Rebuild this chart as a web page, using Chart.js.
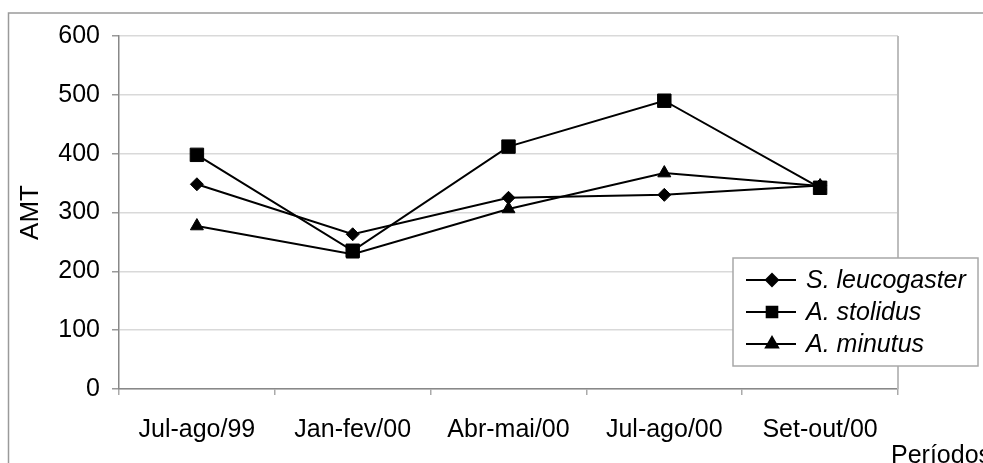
<!DOCTYPE html>
<html>
<head>
<meta charset="utf-8">
<script src="https://cdn.jsdelivr.net/npm/chart.js@4/dist/chart.umd.min.js"></script>
<style>
    html, body { margin: 0; padding: 0; background: #fff; }
    canvas { display: block; }
</style>
</head>
<body>
<canvas id="amt-chart" width="983" height="463"></canvas>
<script>
// periods and AMT values
const periods = ["Jul-ago/99", "Jan-fev/00", "Abr-mai/00", "Jul-ago/00", "Set-out/00"];
const leucogaster = [348, 263, 325, 330, 346];
const stolidus = [398, 235, 412, 490, 342];
const minutus = [277, 229, 306, 367, 345];
const yTicks = [0, 100, 200, 300, 400, 500, 600];

const FONT = "'Liberation Sans', Arial, sans-serif";

// frame, plot border, legend box and the "Períodos" label
const extras = {
    id: "extras",
    afterDraw(chart) {
        const ctx = chart.ctx;
        const area = chart.chartArea;
        ctx.save();

        // outer frame (cut by the window on right/bottom)
        ctx.strokeStyle = "#9a9a9a";
        ctx.lineWidth = 1.5;
        ctx.beginPath();
        ctx.moveTo(8.5, 463);
        ctx.lineTo(8.5, 13);
        ctx.lineTo(983, 13);
        ctx.stroke();

        // right edge of plot area
        ctx.strokeStyle = "#bdbdbd";
        ctx.lineWidth = 2;
        ctx.beginPath();
        ctx.moveTo(area.right, area.top);
        ctx.lineTo(area.right, area.bottom);
        ctx.stroke();

        // legend
        let lx = 733, ly = 258, lw = 245, lh = 108;
        ctx.fillStyle = "#fff";
        ctx.fillRect(lx, ly, lw, lh);
        ctx.strokeStyle = "#a8a8a8";
        ctx.lineWidth = 1.5;
        ctx.strokeRect(lx, ly, lw, lh);

        let rowY = [280, 312, 344];
        chart.data.datasets.forEach((ds, i) => {
            let y = rowY[i];
            ctx.strokeStyle = "#000";
            ctx.lineWidth = 2;
            ctx.beginPath();
            ctx.moveTo(746, y);
            ctx.lineTo(796, y);
            ctx.stroke();
            ctx.fillStyle = "#000";
            Chart.helpers.drawPoint(ctx, {
                pointStyle: ds.pointStyle,
                radius: ds.legendRadius,
                rotation: 0,
                borderWidth: 1
            }, 772, y);
            ctx.font = "italic 25px " + FONT;
            ctx.textAlign = "left";
            ctx.textBaseline = "middle";
            ctx.fillText(ds.label, 806, y + 1);
        });

        // x axis title
        ctx.fillStyle = "#000";
        ctx.font = "25px " + FONT;
        ctx.textAlign = "left";
        ctx.textBaseline = "alphabetic";
        ctx.fillText("Períodos", 891, 463);

        ctx.restore();
    }
};

function makeSet(label, data, style, radius, legendRadius) {
    return {
        label: label,
        data: data,
        borderColor: "#000",
        backgroundColor: "#000",
        borderWidth: 2,
        pointStyle: style,
        pointRadius: radius,
        pointHoverRadius: radius,
        pointBorderWidth: 1,
        legendRadius: legendRadius,
        tension: 0
    };
}

new Chart(document.getElementById("amt-chart"), {
    type: "line",
    data: {
        labels: periods,
        datasets: [
            makeSet("S. leucogaster", leucogaster, "rectRot", 6.5, 6),
            makeSet("A. stolidus", stolidus, "rect", 9.5, 7.5),
            makeSet("A. minutus", minutus, "triangle", 7.5, 7)
        ]
    },
    options: {
        responsive: false,
        animation: false,
        layout: { padding: { left: 0, top: 36, right: 85, bottom: 0 } },
        plugins: {
            legend: { display: false },
            tooltip: { enabled: false }
        },
        scales: {
            x: {
                type: "category",
                offset: true,
                afterFit(scale) { scale.height = 74; },
                grid: {
                    offset: true,
                    drawOnChartArea: false,
                    drawTicks: true,
                    tickLength: 6,
                    tickColor: "#aaa",
                    lineWidth: 1.5
                },
                border: { color: "#888", width: 1.5 },
                ticks: {
                    color: "#000",
                    padding: 20,
                    maxRotation: 0,
                    font: { family: FONT, size: 25 }
                }
            },
            y: {
                min: 0,
                max: 600,
                afterFit(scale) { scale.width = 119; },
                afterBuildTicks(scale) {
                    scale.ticks = yTicks.map(v => ({ value: v }));
                },
                grid: {
                    color: "#d9d9d9",
                    lineWidth: 1.5,
                    tickColor: "#999",
                    tickLength: 7
                },
                border: { color: "#888", width: 1.5 },
                ticks: {
                    color: "#000",
                    padding: 12,
                    font: { family: FONT, size: 25 }
                },
                title: {
                    display: true,
                    text: "AMT",
                    color: "#000",
                    padding: { top: 15, bottom: 0 },
                    font: { family: FONT, size: 26 }
                }
            }
        }
    },
    plugins: [extras]
});
</script>
</body>
</html>
